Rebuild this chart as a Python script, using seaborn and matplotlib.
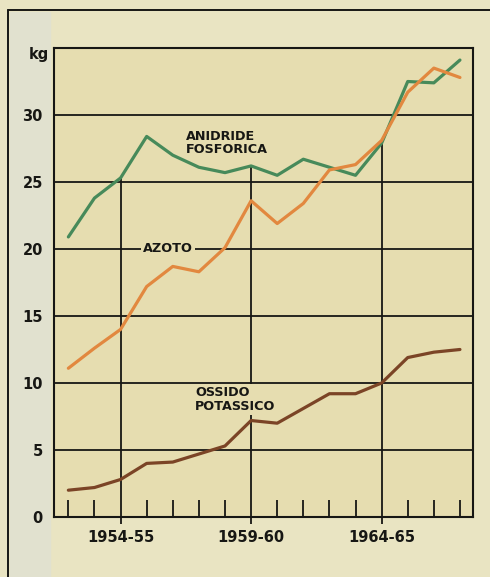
import pandas as pd
import matplotlib
matplotlib.use("Agg")
import matplotlib.pyplot as plt
import matplotlib.patches as mpatches
from matplotlib.lines import Line2D
from matplotlib.ticker import FixedLocator
import seaborn as sns

# annate agrarie 1952-53 ... 1967-68
anni = ["1952-53", "1953-54", "1954-55", "1955-56", "1956-57", "1957-58",
        "1958-59", "1959-60", "1960-61", "1961-62", "1962-63", "1963-64",
        "1964-65", "1965-66", "1966-67", "1967-68"]
etichette_anni = ["1954-55", "1959-60", "1964-65"]

# kg per ettaro
anidride_fosforica = [20.9, 23.8, 25.3, 28.4, 27.0, 26.1, 25.7, 26.2,
                      25.5, 26.7, 26.1, 25.5, 27.9, 32.5, 32.4, 34.1]
azoto = [11.1, 12.6, 14.0, 17.2, 18.7, 18.3, 20.1, 23.6,
         21.9, 23.4, 25.9, 26.3, 28.1, 31.7, 33.5, 32.8]
ossido_potassico = [2.0, 2.2, 2.8, 4.0, 4.1, 4.7, 5.3, 7.2,
                    7.0, 8.1, 9.2, 9.2, 10.0, 11.9, 12.3, 12.5]

y_ticks = [0, 5, 10, 15, 20, 25, 30]

sfondo = "#e6ddb0"
fondo_fig = "#e9e4c2"
nero = "#171714"
colori = {"ANIDRIDE FOSFORICA": "#478a5a",
          "AZOTO": "#e2883f",
          "OSSIDO POTASSICO": "#7b4426"}

sns.set_style("white")
plt.rcParams['font.family'] = ['DejaVu Sans']

idx = list(range(len(anni)))
df = pd.concat([
    pd.DataFrame({"i": idx, "kg": anidride_fosforica, "serie": "ANIDRIDE FOSFORICA"}),
    pd.DataFrame({"i": idx, "kg": azoto, "serie": "AZOTO"}),
    pd.DataFrame({"i": idx, "kg": ossido_potassico, "serie": "OSSIDO POTASSICO"}),
])

fig = plt.figure(figsize=(4.9, 5.77), dpi=100, facecolor=fondo_fig)
# banda chiara a sinistra (scansione) e cornice esterna
fig.add_artist(mpatches.Rectangle((10 / 490, 0), 40 / 490, 1 - 12 / 577,
                                  transform=fig.transFigure, color="#e1e1cf", zorder=0))
fig.add_artist(Line2D([8 / 490, 8 / 490], [0, 1 - 10 / 577], transform=fig.transFigure,
                      color=nero, lw=1.4))
fig.add_artist(Line2D([8 / 490, 1], [1 - 10 / 577, 1 - 10 / 577], transform=fig.transFigure,
                      color=nero, lw=1.4))

ax = fig.add_axes([54 / 490, 60 / 577, 419 / 490, 469 / 577])
ax.set_facecolor(sfondo)

# griglia orizzontale
for y in y_ticks[1:]:
    ax.axhline(y, color=nero, lw=1.3, zorder=1)

# verticali sulle annate principali, dallo zero fino alla curva più alta
for lab in etichette_anni:
    k = anni.index(lab)
    top = max(anidride_fosforica[k], azoto[k], ossido_potassico[k])
    ax.vlines(k, 0, top, color=nero, lw=1.3, zorder=1)

sns.lineplot(data=df, x="i", y="kg", hue="serie", palette=colori,
             linewidth=2.3, legend=False, ax=ax, zorder=3)

ax.set_xlim(-0.55, 15.5)
ax.set_ylim(0, 35)

ax.set_yticks(y_ticks)
ax.set_yticklabels([str(v) for v in y_ticks], fontsize=10.5, fontweight="bold", color=nero)
ax.tick_params(axis="y", length=0, pad=8)

ax.set_xticks([anni.index(l) for l in etichette_anni])
ax.set_xticklabels(etichette_anni, fontsize=10.5, fontweight="bold", color=nero)
ax.xaxis.set_minor_locator(FixedLocator(idx))
ax.tick_params(axis="x", which="major", bottom=True, direction="out", length=5,
               width=1.3, color=nero, pad=4)
ax.tick_params(axis="x", which="minor", bottom=True, direction="in", length=12,
               width=1.3, color=nero)
ax.set_xlabel("")
ax.set_ylabel("")

for s in ax.spines.values():
    s.set_color(nero)
    s.set_linewidth(1.5)
    s.set_visible(True)

ax.text(-0.75, 34.5, "kg", ha="right", va="center", fontsize=10.5,
        fontweight="bold", color=nero, clip_on=False)

box = dict(facecolor=sfondo, edgecolor="none", pad=1.5)
ax.text(4.5, 27.9, "ANIDRIDE\nFOSFORICA", ha="left", va="center", fontsize=9.2,
        fontweight="bold", color=nero, linespacing=1.05, zorder=4)
ax.text(3.8, 20, "AZOTO", ha="center", va="center", fontsize=9.2,
        fontweight="bold", color=nero, bbox=box, zorder=4)
ax.text(4.85, 9.75, "OSSIDO\nPOTASSICO", ha="left", va="top", fontsize=9.2,
        fontweight="bold", color=nero, linespacing=1.05, bbox=box, zorder=2)

fig.savefig("out.png", dpi=100, facecolor=fondo_fig)
